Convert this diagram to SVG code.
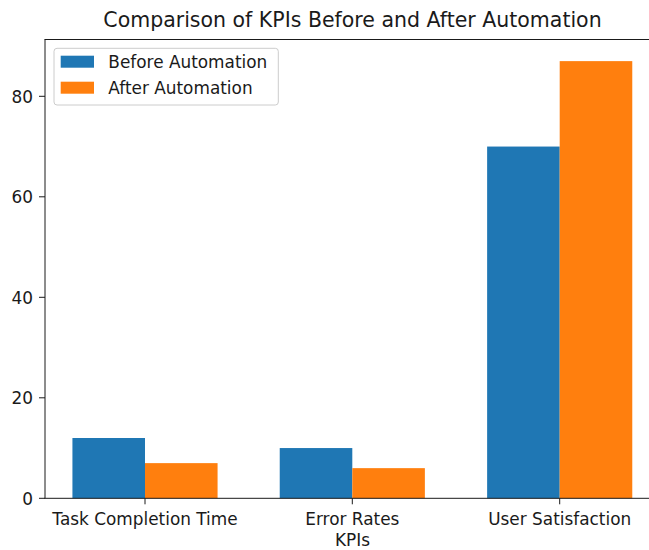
<svg xmlns="http://www.w3.org/2000/svg" width="649" height="550" viewBox="0 0 649 550">
  <style>
    text { font-family: "DejaVu Sans", "Liberation Sans", sans-serif; fill: #1a1a1a; }
    .tick { font-size: 16.9px; }
    .ytick { font-size: 16.9px; text-anchor: end; }
    .xtick { font-size: 16.9px; text-anchor: middle; }
    .title { font-size: 20.5px; text-anchor: middle; }
    .before { fill: #1f77b4; }
    .after { fill: #ff7f0e; }
    .spine { stroke: #1a1a1a; stroke-width: 1; fill: none; }
    .tk { stroke: #1a1a1a; stroke-width: 1; }
  </style>

  <rect x="0" y="0" width="649" height="550" fill="#ffffff"/>

  <text class="title" x="352.5" y="27">Comparison of KPIs Before and After Automation</text>

  <!-- bars -->
  <g id="bars">
    <g id="task-completion-time">
      <rect class="before" x="72.43" y="438.0" width="72.57" height="60.3"/>
      <rect class="after" x="145" y="463.13" width="72.57" height="35.17"/>
    </g>
    <g id="error-rates">
      <rect class="before" x="279.73" y="448.05" width="72.57" height="50.25"/>
      <rect class="after" x="352.3" y="468.15" width="72.57" height="30.15"/>
    </g>
    <g id="user-satisfaction">
      <rect class="before" x="487.13" y="146.55" width="72.57" height="351.75"/>
      <rect class="after" x="559.7" y="61.12" width="72.57" height="437.18"/>
    </g>
  </g>

  <!-- axes frame -->
  <g id="axes">
    <line class="spine" x1="45" y1="39.5" x2="45" y2="498.3"/>
    <line class="spine" x1="44.5" y1="498.3" x2="660" y2="498.3"/>
    <line class="spine" x1="44.5" y1="39.5" x2="660" y2="39.5"/>

    <!-- y ticks -->
    <g id="yticks">
      <line class="tk" x1="39" y1="498.3" x2="45" y2="498.3"/>
      <line class="tk" x1="39" y1="397.8" x2="45" y2="397.8"/>
      <line class="tk" x1="39" y1="297.3" x2="45" y2="297.3"/>
      <line class="tk" x1="39" y1="196.8" x2="45" y2="196.8"/>
      <line class="tk" x1="39" y1="96.3" x2="45" y2="96.3"/>
      <text class="ytick" x="33" y="504.5">0</text>
      <text class="ytick" x="33" y="404">20</text>
      <text class="ytick" x="33" y="303.5">40</text>
      <text class="ytick" x="33" y="203">60</text>
      <text class="ytick" x="33" y="102.5">80</text>
    </g>

    <!-- x ticks -->
    <g id="xticks">
      <line class="tk" x1="145" y1="498.3" x2="145" y2="504.3"/>
      <line class="tk" x1="352.3" y1="498.3" x2="352.3" y2="504.3"/>
      <line class="tk" x1="559.7" y1="498.3" x2="559.7" y2="504.3"/>
      <text class="xtick" x="145" y="524.5">Task Completion Time</text>
      <text class="xtick" x="352.3" y="524.5">Error Rates</text>
      <text class="xtick" x="559.7" y="524.5">User Satisfaction</text>
    </g>

    <text class="xtick" x="352.5" y="545.5">KPIs</text>
  </g>

  <!-- legend -->
  <g id="legend">
    <rect x="54" y="48.3" width="224.3" height="56.7" rx="3" ry="3" fill="#ffffff" fill-opacity="0.8" stroke="#cccccc" stroke-width="1"/>
    <rect class="before" x="60.7" y="55.7" width="33.3" height="12"/>
    <rect class="after" x="60.7" y="81.7" width="33.3" height="12"/>
    <text class="tick" x="108.3" y="68">Before Automation</text>
    <text class="tick" x="108.3" y="93.5">After Automation</text>
  </g>
</svg>
